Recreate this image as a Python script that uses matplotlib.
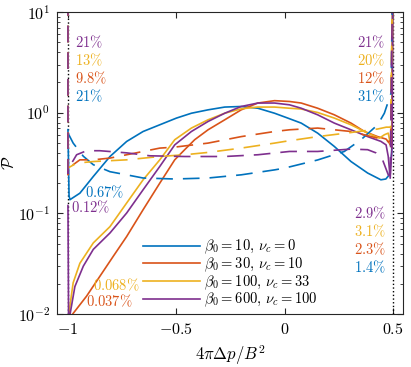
import matplotlib
matplotlib.use("Agg")
import matplotlib.pyplot as plt

plt.rcParams['mathtext.fontset'] = 'cm'
plt.rcParams['font.family'] = 'serif'
plt.rcParams['font.serif'] = ['DejaVu Serif']

# colores estilo MATLAB
c_blue = '#0072BD'
c_orange = '#D95319'
c_yellow = '#EDB120'
c_purple = '#7E2F8E'
colores = [c_blue, c_orange, c_yellow, c_purple]

etiquetas = [r'$\beta_0=10,\,\nu_c=0$', r'$\beta_0=30,\,\nu_c=10$',
             r'$\beta_0=100,\,\nu_c=33$', r'$\beta_0=600,\,\nu_c=100$']

# curvas continuas
x_sol_blue = [-1.0, -0.995, -0.991, -0.945, -0.883, -0.806, -0.729, -0.653, -0.576, -0.499,
              -0.43, -0.353, -0.276, -0.2, -0.123, -0.046, 0.015, 0.077, 0.153, 0.23,
              0.307, 0.384, 0.445, 0.468, 0.484, 0.495, 0.5]
y_sol_blue = [0.68, 0.15, 0.137, 0.159, 0.233, 0.368, 0.519, 0.652, 0.76, 0.886,
              0.99, 1.07, 1.14, 1.155, 1.11, 0.99, 0.886, 0.79, 0.628, 0.463,
              0.328, 0.252, 0.216, 0.22, 0.242, 0.4, 20]

x_sol_orange = [-0.99, -0.985, -0.914, -0.853, -0.791, -0.729, -0.653, -0.576, -0.507, -0.461,
                -0.415, -0.353, -0.276, -0.2, -0.123, -0.046, 0.023, 0.077, 0.153, 0.23,
                0.307, 0.369, 0.43, 0.469, 0.484, 0.495, 0.5]
y_sol_orange = [0.008, 0.0096, 0.0151, 0.0237, 0.0375, 0.059, 0.109, 0.20, 0.341, 0.43,
                0.54, 0.678, 0.852, 1.07, 1.25, 1.32, 1.295, 1.25, 1.11, 0.955,
                0.79, 0.652, 0.58, 0.548, 0.5, 0.45, 20]

x_sol_yellow = [-1.0, -0.995, -0.991, -0.976, -0.945, -0.883, -0.806, -0.729, -0.653, -0.576,
                -0.507, -0.43, -0.353, -0.276, -0.2, -0.123, -0.046, 0.023, 0.077, 0.153,
                0.23, 0.307, 0.384, 0.438, 0.461, 0.479, 0.488, 0.495, 0.5]
y_sol_yellow = [0.005, 0.009, 0.012, 0.0205, 0.032, 0.051, 0.074, 0.127, 0.216, 0.341,
                0.54, 0.705, 0.852, 0.99, 1.095, 1.14, 1.14, 1.11, 1.09, 1.007,
                0.886, 0.76, 0.628, 0.56, 0.605, 0.628, 0.5, 0.6, 20]

x_sol_purple = [-1.0, -0.999, -0.997, -0.991, -0.968, -0.929, -0.883, -0.806, -0.729, -0.653,
                -0.576, -0.507, -0.43, -0.353, -0.276, -0.2, -0.123, -0.046, 0.023, 0.077,
                0.153, 0.23, 0.307, 0.384, 0.445, 0.469, 0.479, 0.488, 0.497, 0.5]
y_sol_purple = [0.12, 0.05, 0.008, 0.0098, 0.0188, 0.030, 0.044, 0.064, 0.101, 0.172,
                0.293, 0.48, 0.652, 0.82, 0.99, 1.155, 1.25, 1.25, 1.2, 1.11,
                0.955, 0.79, 0.678, 0.58, 0.52, 0.48, 0.368, 0.224, 0.5, 20]

# curvas discontinuas
x_das_blue = [-1.0, -1.0, -0.976, -0.929, -0.883, -0.806, -0.729, -0.653, -0.507, -0.353,
              -0.2, -0.046, 0.0, 0.153, 0.276, 0.353, 0.43, 0.461, 0.492, 0.5]
y_das_blue = [30, 0.63, 0.50, 0.37, 0.305, 0.26, 0.242, 0.225, 0.22, 0.225,
              0.242, 0.271, 0.282, 0.34, 0.413, 0.54, 0.76, 0.99, 1.57, 30]

x_das_orange = [-1.0, -1.0, -0.976, -0.945, -0.883, -0.806, -0.729, -0.653, -0.576, -0.507,
                -0.353, -0.2, -0.046, 0.023, 0.153, 0.307, 0.43, 0.476, 0.49, 0.5]
y_das_orange = [30, 0.242, 0.305, 0.341, 0.341, 0.355, 0.383, 0.413, 0.446, 0.456,
                0.5, 0.58, 0.652, 0.678, 0.705, 0.652, 0.56, 0.52, 0.52, 30]

x_das_yellow = [-1.0, -1.0, -0.96, -0.883, -0.729, -0.576, -0.461, -0.353, -0.2, -0.046,
                0.0, 0.153, 0.307, 0.43, 0.47, 0.49, 0.5]
y_das_yellow = [30, 0.283, 0.316, 0.328, 0.341, 0.368, 0.383, 0.404, 0.446, 0.5,
                0.519, 0.58, 0.637, 0.69, 0.72, 0.72, 30]

x_das_purple = [-1.0, -1.0, -0.983, -0.96, -0.914, -0.853, -0.729, -0.622, -0.461, -0.276,
                -0.123, 0.023, 0.153, 0.307, 0.384, 0.422, 0.453, 0.476, 0.488, 0.5]
y_das_purple = [30, 0.25, 0.316, 0.383, 0.42, 0.42, 0.40, 0.374, 0.368, 0.368,
                0.383, 0.413, 0.413, 0.436, 0.43, 0.40, 0.34, 0.252, 0.216, 30]

x_sol = [x_sol_blue, x_sol_orange, x_sol_yellow, x_sol_purple]
y_sol = [y_sol_blue, y_sol_orange, y_sol_yellow, y_sol_purple]
x_das = [x_das_blue, x_das_orange, x_das_yellow, x_das_purple]
y_das = [y_das_blue, y_das_orange, y_das_yellow, y_das_purple]

# porcentajes en los bordes (azul, naranja, amarillo, morado)
pct_arriba_izq = ['21%', '9.8%', '13%', '21%']
pct_arriba_der = ['31%', '12%', '20%', '21%']
pct_abajo_izq = ['0.67%', '0.037%', '0.068%', '0.12%']
pct_abajo_der = ['1.4%', '2.3%', '3.1%', '2.9%']


def tex(s):
    return '$' + s.replace('%', r'\%') + '$'


fig = plt.figure(figsize=(4.11, 3.67), dpi=100)
ax = fig.add_axes([0.139, 0.144, 0.842, 0.823])

ax.axvline(-1, color='k', ls=':', lw=1.0)
ax.axvline(0.5, color='k', ls=':', lw=1.0)

for xs, ys, c, lab in zip(x_sol, y_sol, colores, etiquetas):
    ax.plot(xs, ys, color=c, lw=1.2, label=lab)
for xs, ys, c in zip(x_das, y_das, colores):
    ax.plot(xs, ys, color=c, lw=1.2, dashes=(10, 6))

ax.set_yscale('log')
ax.set_xlim(-1.05, 0.548)
ax.set_ylim(1e-2, 1e1)
ax.set_xticks([-1, -0.5, 0, 0.5])
ax.set_xticklabels([r'$-1$', r'$-0.5$', r'$0$', r'$0.5$'])
ax.set_yticks([1e-2, 1e-1, 1e0, 1e1])
ax.set_yticklabels([r'$10^{-2}$', r'$10^{-1}$', r'$10^{0}$', r'$10^{1}$'])
ax.tick_params(which='both', direction='in', top=True, right=True, labelsize=11.5,
               color='0.15', pad=5)
ax.tick_params(which='major', length=4)
ax.tick_params(which='minor', length=2.5)
for s in ax.spines.values():
    s.set_color('0.15')

ax.set_xlabel(r'$4\pi\Delta p/B^2$', fontsize=12)
ax.set_ylabel(r'$\mathcal{P}$', fontsize=12)
ax.yaxis.set_label_coords(-0.112, 0.5)

fs = 10.5
# de arriba a abajo: morado, amarillo, naranja, azul
orden = [3, 2, 1, 0]
for k, i in enumerate(orden):
    ax.text(-0.966, 10 ** (0.70 - 0.178 * k), tex(pct_arriba_izq[i]),
            color=colores[i], fontsize=fs, ha='left', va='center')
    ax.text(0.465, 10 ** (0.70 - 0.178 * k), tex(pct_arriba_der[i]),
            color=colores[i], fontsize=fs, ha='right', va='center')
    ax.text(0.467, 10 ** (-1.0 - 0.178 * k), tex(pct_abajo_der[i]),
            color=colores[i], fontsize=fs, ha='right', va='center')

ax.text(-0.92, 10 ** (-0.79), tex(pct_abajo_izq[0]), color=c_blue, fontsize=fs,
        ha='left', va='center')
ax.text(-0.985, 10 ** (-0.94), tex(pct_abajo_izq[3]), color=c_purple, fontsize=fs,
        ha='left', va='center')
ax.text(-0.885, 10 ** (-1.712), tex(pct_abajo_izq[2]), color=c_yellow, fontsize=fs,
        ha='left', va='center')
ax.text(-0.915, 10 ** (-1.868), tex(pct_abajo_izq[1]), color=c_orange, fontsize=fs,
        ha='left', va='center')

ax.legend(loc='upper left', bbox_to_anchor=(0.249, 0.252), frameon=False, fontsize=fs,
          borderpad=0, handlelength=3.9, handletextpad=0.25, labelspacing=-0.05,
          borderaxespad=0)

fig.savefig('out.png', dpi=100)
